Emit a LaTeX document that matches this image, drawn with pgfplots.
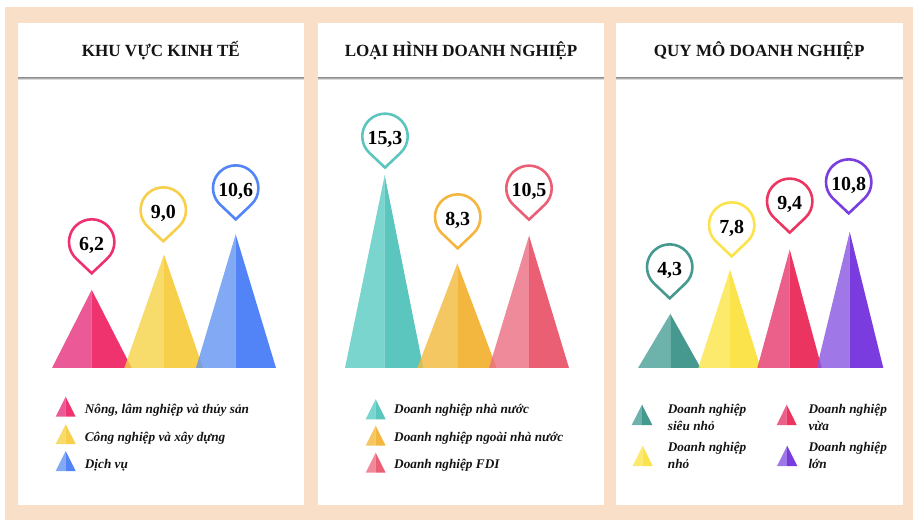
\documentclass[border=0pt]{standalone}
\usepackage{fontspec}
\setmainfont{Liberation Serif}
\usepackage{pgfplots}
\pgfplotsset{compat=1.18}
% colours: shown colour through 80% opacity
\definecolor{pinkL}{RGB}{231,49,125}\definecolor{pinkD}{RGB}{234,0,76}
\definecolor{yelL}{RGB}{246,210,70}\definecolor{yelD}{RGB}{246,195,29}
\definecolor{bluL}{RGB}{99,148,242}\definecolor{bluD}{RGB}{39,102,246}
\definecolor{teaL}{RGB}{89,203,196}\definecolor{teaD}{RGB}{51,184,174}
\definecolor{orL}{RGB}{243,186,60}\definecolor{orD}{RGB}{241,164,15}
\definecolor{rosL}{RGB}{234,109,129}\definecolor{rosD}{RGB}{230,55,83}
\definecolor{dkL}{RGB}{74,160,151}\definecolor{dkD}{RGB}{24,128,115}
\definecolor{lemL}{RGB}{250,229,71}\definecolor{lemD}{RGB}{251,220,30}
\definecolor{pk2L}{RGB}{230,55,111}\definecolor{pk2D}{RGB}{231,2,56}
\definecolor{purL}{RGB}{136,85,226}\definecolor{purD}{RGB}{89,12,216}
% pin outline colours
\definecolor{pPink}{HTML}{EE3270}\definecolor{pYel}{HTML}{F8CF4A}\definecolor{pBlu}{HTML}{5285F8}
\definecolor{pTea}{HTML}{5CC6BE}\definecolor{pOr}{HTML}{F4B63F}\definecolor{pRos}{HTML}{EB5F75}
\definecolor{pDk}{HTML}{46998F}\definecolor{pLem}{HTML}{FCE34B}\definecolor{pPk2}{HTML}{EC3560}\definecolor{pPur}{HTML}{7A3DE0}
\definecolor{peach}{HTML}{F9DFC8}
\pgfdeclareplotmark{pin}{%
  \pgfpathmoveto{\pgfpoint{0bp}{1.67bp}}%
  \pgfpathlineto{\pgfpoint{15.63bp}{16.5bp}}%
  \pgfpatharc{-46.5}{226.5}{22.7bp}%
  \pgfpathclose
  \pgfusepathqfillstroke}
\pgfplotsset{
  page/.style={scale only axis,width=918bp,height=528bp,hide axis,clip=false,at={(0,0)},anchor=south west},
  tri/.style={fill=#1,draw=none,fill opacity=.8,mark=none,forget plot},
  pin/.style 2 args={only marks,mark=pin,mark size=1pt,
    mark options={draw=#1,fill=white,line width=2.6bp,solid,yshift=#2bp},
    nodes near coords,point meta=explicit symbolic,
    nodes near coords style={anchor=center,inner sep=0pt,yshift=30bp,text=black,
      font=\fontsize{20}{20}\selectfont\bfseries}},
}
\newcommand{\legtri}[6]{% xleft xright ytop ybottom light dark
  \fill[#5,fill opacity=.8] (axis cs:#1,#4) -- (axis cs:{(#1+#2)/2},#4) -- (axis cs:{(#1+#2)/2},#3) -- cycle;
  \fill[#6,fill opacity=.8] (axis cs:#2,#4) -- (axis cs:{(#1+#2)/2},#4) -- (axis cs:{(#1+#2)/2},#3) -- cycle;}
\newcommand{\panel}[3]{% left right title
  \fill[white] (axis cs:#1,23.3) rectangle (axis cs:#2,505);
  \fill[black!45] (axis cs:#1,77) rectangle (axis cs:#2,78);
  \fill[black!32] (axis cs:#1,78) rectangle (axis cs:#2,79);
  \fill[black!14] (axis cs:#1,79) rectangle (axis cs:#2,80);
  \node[font=\fontsize{17.1}{18}\selectfont\bfseries,text=black!92] at (axis cs:{(#1+#2)/2},51) {#3};}
\newcommand{\leg}[3]{\node[anchor=west,inner sep=0pt,font=\fontsize{13.3}{14}\selectfont\bfseries\itshape,text=black!92] at (axis cs:#1,#2) {#3};}
\begin{document}
\begin{tikzpicture}
\useasboundingbox (0,0) rectangle (918bp,528bp);
% layout axis: coordinates are picture pixels
\begin{axis}[page,xmin=0,xmax=918,ymin=0,ymax=528,y dir=reverse]
\fill[peach] (axis cs:5,7.3) rectangle (axis cs:913,520);
\panel{17.7}{304}{KHU VỰC KINH TẾ}
\panel{317.7}{604.3}{LOẠI HÌNH DOANH NGHIỆP}
\panel{615.7}{902.7}{QUY MÔ DOANH NGHIỆP}
\legtri{55.7}{75.7}{396.7}{416.7}{pinkL}{pinkD}
\legtri{55.7}{75.7}{424.3}{444}{yelL}{yelD}
\legtri{55.7}{75.7}{451}{471}{bluL}{bluD}
\leg{84.7}{410.5}{Nông, lâm nghiệp và thủy sản}
\leg{84.7}{437.8}{Công nghiệp và xây dựng}
\leg{84.7}{465}{Dịch vụ}
\legtri{365.7}{385.7}{399.3}{419.3}{teaL}{teaD}
\legtri{365.7}{385.7}{425.7}{445.7}{orL}{orD}
\legtri{365.7}{385.7}{452.7}{472.7}{rosL}{rosD}
\leg{394}{410.5}{Doanh nghiệp nhà nước}
\leg{394}{437.8}{Doanh nghiệp ngoài nhà nước}
\leg{394}{465}{Doanh nghiệp FDI}
\legtri{631.7}{652.3}{404.7}{425}{dkL}{dkD}
\legtri{632.7}{652.7}{445.7}{466}{lemL}{lemD}
\legtri{776.7}{796.7}{404.7}{425}{pk2L}{pk2D}
\legtri{777}{797.3}{445.7}{466}{purL}{purD}
\leg{667.7}{410.5}{Doanh nghiệp}
\leg{667.7}{425.5}{siêu nhỏ}
\leg{667.7}{448.5}{Doanh nghiệp}
\leg{667.7}{463.5}{nhỏ}
\leg{808.3}{410.5}{Doanh nghiệp}
\leg{808.3}{425.5}{vừa}
\leg{808.3}{448.5}{Doanh nghiệp}
\leg{808.3}{463.5}{lớn}
\end{axis}
% data axis: y in the chart's values, baseline at pixel row 368, 12.6 px per unit
\begin{axis}[page,xmin=0,xmax=918,ymin=-12.698,ymax=29.206]
% panel 1
\addplot[tri=pinkL] coordinates {(52,0)(91.7,0)(91.7,6.2)} --cycle;
\addplot[tri=pinkD] coordinates {(131.7,0)(91.7,0)(91.7,6.2)} --cycle;
\addplot[tri=yelL] coordinates {(124.3,0)(164,0)(164,9.0)} --cycle;
\addplot[tri=yelD] coordinates {(203,0)(164,0)(164,9.0)} --cycle;
\addplot[tri=bluL] coordinates {(196,0)(235.7,0)(235.7,10.6)} --cycle;
\addplot[tri=bluD] coordinates {(276,0)(235.7,0)(235.7,10.6)} --cycle;
% panel 2
\addplot[tri=teaL] coordinates {(345,0)(384.7,0)(384.7,15.3)} --cycle;
\addplot[tri=teaD] coordinates {(423.3,0)(384.7,0)(384.7,15.3)} --cycle;
\addplot[tri=orL] coordinates {(417.3,0)(457.3,0)(457.3,8.3)} --cycle;
\addplot[tri=orD] coordinates {(496.7,0)(457.3,0)(457.3,8.3)} --cycle;
\addplot[tri=rosL] coordinates {(489,0)(529,0)(529,10.5)} --cycle;
\addplot[tri=rosD] coordinates {(569,0)(529,0)(529,10.5)} --cycle;
% panel 3
\addplot[tri=dkL] coordinates {(638,0)(670.3,0)(670.3,4.3)} --cycle;
\addplot[tri=dkD] coordinates {(700.7,0)(670.3,0)(670.3,4.3)} --cycle;
\addplot[tri=lemL] coordinates {(698.3,0)(730,0)(730,7.8)} --cycle;
\addplot[tri=lemD] coordinates {(760.7,0)(730,0)(730,7.8)} --cycle;
\addplot[tri=pk2L] coordinates {(757.3,0)(789.7,0)(789.7,9.4)} --cycle;
\addplot[tri=pk2D] coordinates {(821.7,0)(789.7,0)(789.7,9.4)} --cycle;
\addplot[tri=purL] coordinates {(816.7,0)(849.7,0)(849.7,10.8)} --cycle;
\addplot[tri=purD] coordinates {(883.3,0)(849.7,0)(849.7,10.8)} --cycle;
% value pins
\addplot[pin={pPink}{14.9}] coordinates {(91.7,6.2)[6,2]};
\addplot[pin={pYel}{11.6}] coordinates {(163.3,9.0)[9,0]};
\addplot[pin={pBlu}{13.4}] coordinates {(235.7,10.6)[10,6]};
\addplot[pin={pTea}{5.9}] coordinates {(385,15.3)[15,3]};
\addplot[pin={pOr}{13.4}] coordinates {(457.7,8.3)[8,3]};
\addplot[pin={pRos}{14.4}] coordinates {(529,10.5)[10,5]};
\addplot[pin={pDk}{13.8}] coordinates {(669.7,4.3)[4,3]};
\addplot[pin={pLem}{11.7}] coordinates {(731.7,7.8)[7,8]};
\addplot[pin={pPk2}{15.3}] coordinates {(789.7,9.4)[9,4]};
\addplot[pin={pPur}{16.9}] coordinates {(848.7,10.8)[10,8]};
\end{axis}
\end{tikzpicture}
\end{document}
